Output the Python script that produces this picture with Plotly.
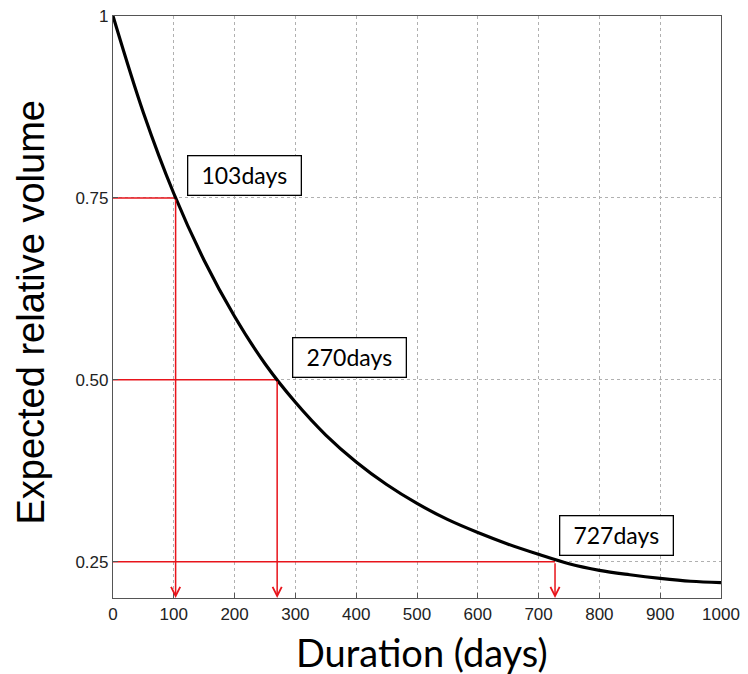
import plotly.graph_objects as go

# Curve
duration = [0, 50, 100, 150, 200, 250, 300, 350, 400, 450, 500, 550, 600,
            650, 700, 750, 800, 850, 900, 950, 1000]
volume = [1.0, 0.867, 0.756, 0.664, 0.587, 0.522, 0.469, 0.424, 0.387, 0.356,
          0.330, 0.308, 0.290, 0.274, 0.260, 0.247, 0.238, 0.232, 0.227, 0.223, 0.221]

# Marked levels
levels = [0.75, 0.50, 0.25]
days = [103, 270, 727]
labels = ["103days", "270days", "727days"]

x_ticks = [0, 100, 200, 300, 400, 500, 600, 700, 800, 900, 1000]
y_ticks = [0.25, 0.50, 0.75, 1.0]
y_ticktext = ["0.25", "0.50", "0.75", "1"]

X_MIN, X_MAX = 0, 1000
Y_MIN, Y_MAX = 0.2, 1.0

RED = "#e8141b"

fig = go.Figure()

# Red horizontal guides
for d, lv in zip(days, levels):
    fig.add_trace(go.Scatter(x=[X_MIN, d], y=[lv, lv], mode="lines",
                             line=dict(color=RED, width=1.5),
                             hoverinfo="skip", showlegend=False))

fig.add_trace(go.Scatter(x=duration, y=volume, mode="lines",
                         line=dict(color="black", width=3.2, shape="spline"),
                         showlegend=False))

annotations = []
# Red vertical arrows
for d, lv in zip(days, levels):
    annotations.append(dict(x=d, y=Y_MIN, ax=d, ay=lv, xref="x", yref="y",
                            axref="x", ayref="y", showarrow=True, arrowhead=5,
                            arrowsize=1.2, arrowwidth=1.5, arrowcolor=RED, text=""))

# Label boxes (left, bottom in data units)
box_pos = [(122, 0.752), (294, 0.502), (734, 0.258)]
for (bx, by), t in zip(box_pos, labels):
    annotations.append(dict(x=bx, y=by, xref="x", yref="y", xanchor="left",
                            yanchor="bottom", showarrow=False, text=t,
                            font=dict(family="Lato", size=23, color="black"),
                            bgcolor="white", bordercolor="black", borderwidth=1.3,
                            width=110, height=36, align="center"))

# Axis titles
annotations.append(dict(x=0.508, y=-0.092, xref="paper", yref="paper",
                        text="Duration (days)", showarrow=False,
                        font=dict(family="Lato", size=38, color="black"),
                        xanchor="center", yanchor="middle"))
annotations.append(dict(x=-0.135, y=0.492, xref="paper", yref="paper",
                        text="Expected relative volume", showarrow=False,
                        textangle=-90,
                        font=dict(family="Liberation Sans", size=38, color="black"),
                        xanchor="center", yanchor="middle"))

axis_common = dict(showline=True, linecolor="#555", linewidth=1.2, mirror=True,
                   ticks="inside", ticklen=5, tickcolor="#555",
                   showgrid=True, gridcolor="#b0b0b0", gridwidth=1,
                   griddash="dot", zeroline=False, ticklabeloverflow="allow",
                   tickfont=dict(family="Liberation Sans", size=17, color="#222"))

fig.update_layout(
    width=748, height=674,
    margin=dict(l=105, r=35, t=8, b=84),
    paper_bgcolor="white", plot_bgcolor="white",
    xaxis=dict(range=[X_MIN, X_MAX], tickvals=x_ticks, automargin=False,
               **axis_common),
    yaxis=dict(range=[Y_MIN, Y_MAX], tickvals=y_ticks, ticktext=y_ticktext,
               automargin=False, **axis_common),
    annotations=annotations,
)

fig.write_html("out.html")
